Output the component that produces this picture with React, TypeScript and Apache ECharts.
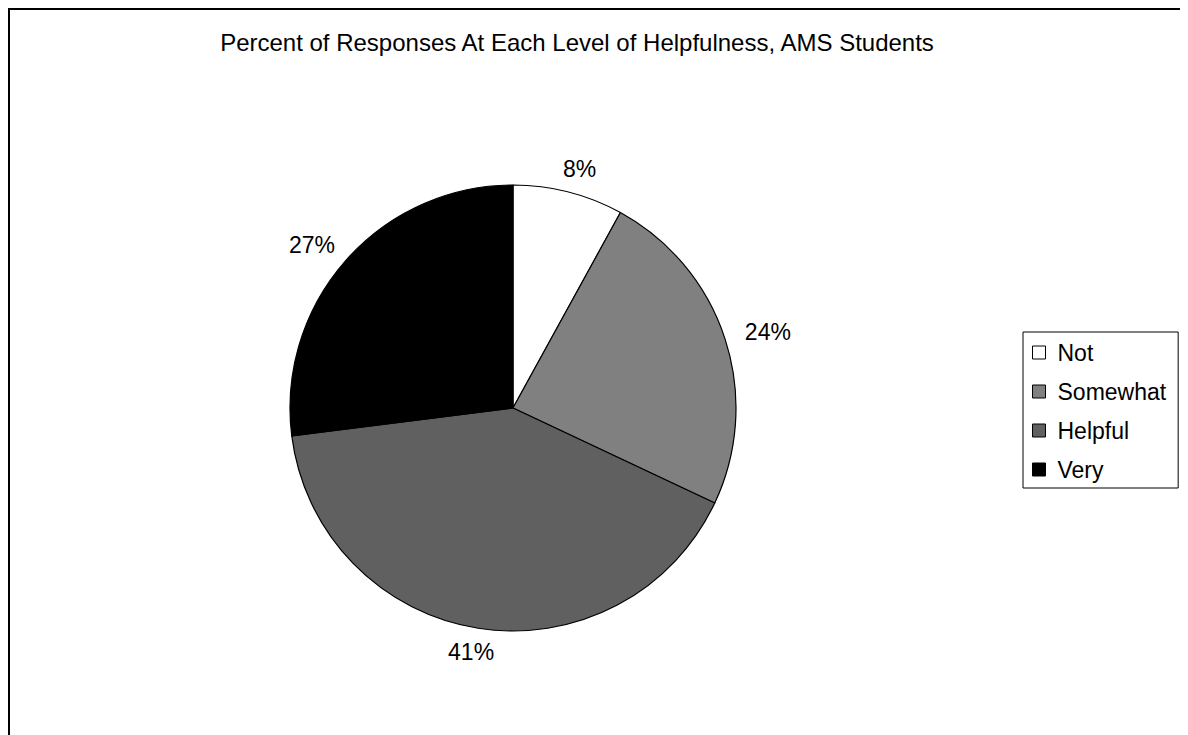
import React, { useEffect, useRef } from "react";
import * as echarts from "echarts";

const titleText = "Percent of Responses At Each Level of Helpfulness, AMS Students";
const categories = ["Not", "Somewhat", "Helpful", "Very"];
const values = [8, 24, 41, 27];
const colors = ["#ffffff", "#808080", "#606060", "#000000"];

const FONT = "'Liberation Sans', Arial, Helvetica, sans-serif";
const CX = 505;
const CY = 400;
const R = 223;

export default function App() {
  const ref = useRef<HTMLDivElement>(null);
  useEffect(() => {
    if (!ref.current) return;
    const chart = echarts.init(ref.current, undefined, { renderer: "svg" });
    const total = values.reduce((a, b) => a + b, 0);
    const mids: number[] = [];
    let acc = 0;
    values.forEach((v) => {
      mids.push(((acc + v / 2) / total) * 2 * Math.PI);
      acc += v;
    });
    chart.setOption({
      animation: false,
      backgroundColor: "#ffffff",
      title: {
        text: titleText,
        left: 569,
        top: 22,
        textAlign: "center",
        padding: 0,
        textStyle: { fontFamily: FONT, fontSize: 24, fontWeight: "normal", color: "#000" },
      },
      graphic: [
        {
          type: "rect",
          shape: { x: 1, y: 1, width: 1177, height: 800 },
          style: { fill: "none", stroke: "#000", lineWidth: 2 },
          silent: true,
        },
      ],
      legend: {
        orient: "vertical",
        left: 1015,
        top: 324,
        data: categories,
        icon: "rect",
        itemWidth: 13,
        itemHeight: 13,
        itemGap: 16,
        padding: [9, 12, 7, 9],
        borderColor: "#000",
        borderWidth: 1,
        borderRadius: 0,
        itemStyle: { borderColor: "#000", borderWidth: 1 },
        textStyle: {
          fontFamily: FONT,
          fontSize: 23,
          color: "#000",
          lineHeight: 23,
          padding: [0, 0, 0, 7],
        },
      },
      series: [
        {
          type: "pie",
          center: [CX, CY],
          radius: R,
          startAngle: 90,
          clockwise: true,
          data: categories.map((c, i) => ({
            name: c,
            value: values[i],
            itemStyle: { color: colors[i] },
          })),
          itemStyle: { borderColor: "#000", borderWidth: 1.2 },
          emphasis: { disabled: true },
          label: {
            show: true,
            position: "outside",
            formatter: (p: any) => `${p.value}%`,
            fontFamily: FONT,
            fontSize: 23,
            color: "#000",
          },
          labelLine: { show: false },
          labelLayout: (p: any) => {
            const a = mids[p.dataIndex];
            return {
              x: CX + (R + 45) * Math.sin(a),
              y: CY - (R + 24) * Math.cos(a),
              align: "center",
              verticalAlign: "middle",
            };
          },
        },
      ],
    });
    return () => chart.dispose();
  }, []);
  return <div ref={ref} style={{ width: 1180, height: 727 }} />;
}
